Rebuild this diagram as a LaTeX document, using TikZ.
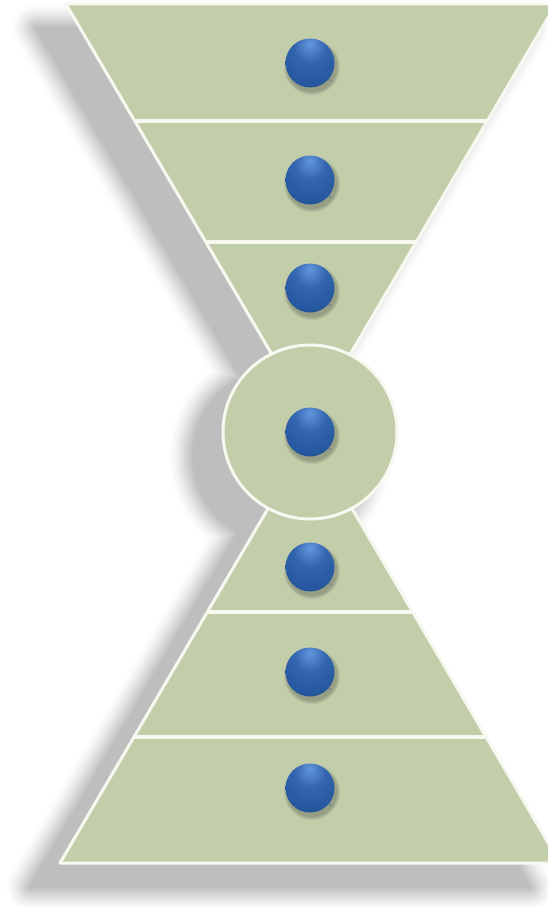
\documentclass[tikz,border=0pt]{standalone}
\usetikzlibrary{calc}
\definecolor{sage}{HTML}{C2CDAA}
\definecolor{shadowc}{HTML}{B8B8B8}
\definecolor{edgec}{HTML}{F7F8F0}
\definecolor{orbA}{HTML}{6397DC}
\definecolor{orbB}{HTML}{3466B0}
\definecolor{orbC}{HTML}{22549B}
\definecolor{orbD}{HTML}{1B4788}
\pgfdeclareradialshading{orb}{\pgfpoint{0bp}{20bp}}{color(0bp)=(orbA); color(16bp)=(orbB); color(38bp)=(orbC); color(62bp)=(orbD); color(100bp)=(orbD)}
\newcommand\topfunnel{(66,4) -- (556,4) -- (311,421) -- cycle}
\newcommand\botfunnel{(310,437) -- (560,863) -- (60,863) -- cycle}
\newcommand\midcircle{(310,432) circle[radius=87]}
\tikzset{
  panel/.style={fill=sage, draw=edgec, line width=3pt, line join=round},
  divider/.style={draw=edgec, line width=3.5pt},
  orb/.style={circle, minimum size=49pt, inner sep=0pt, shading=orb}
}
\begin{document}
\begin{tikzpicture}[x=1pt,y=-1pt]
\useasboundingbox[fill=white] (0,0) rectangle (548,907);
\clip (0,0) rectangle (548,907);
% soft drop shadow of the whole hourglass
\begin{scope}[shift={(-30,24)}]
  \foreach \k in {16,...,1}{
    \pgfmathsetmacro\p{92*(1-(\k-0.5)/16)^1.3}
    \draw[line width=\k*3pt, shadowc!\p!white, line join=round] \topfunnel \midcircle \botfunnel;
  }
  \fill[shadowc!92!white] \topfunnel;
  \fill[shadowc!92!white] \botfunnel;
  \fill[shadowc!92!white] \midcircle;
\end{scope}
% funnels
\path[panel] \topfunnel;
\path[panel] \botfunnel;
\coordinate (TL) at (66,4);
\coordinate (TR) at (556,4);
\coordinate (TA) at (311,421);
\coordinate (BL) at (60,863);
\coordinate (BR) at (560,863);
\coordinate (BA) at (310,437);
\draw[divider] ($(TA)!300/417!(TL)$) -- ($(TA)!300/417!(TR)$);
\draw[divider] ($(TA)!179/417!(TL)$) -- ($(TA)!179/417!(TR)$);
\draw[divider] ($(BA)!175/426!(BL)$) -- ($(BA)!175/426!(BR)$);
\draw[divider] ($(BA)!300/426!(BL)$) -- ($(BA)!300/426!(BR)$);
% centre disc
\path[panel] \midcircle;
% orbs
\foreach \y [count=\i] in {63,180,288,432,567,672,788}{
  \foreach \r in {28,27,26,25}{
    \fill[black, opacity=0.06] (312,\y+4) circle[radius=\r];
  }
  \node[orb] (b\i) at (310,\y) {};
  \draw[orbB, line width=0.8pt, opacity=0.6] ($(b\i)+(-15,18)$) arc[start angle=220, end angle=320, radius=23.5];
}
\end{tikzpicture}
\end{document}
